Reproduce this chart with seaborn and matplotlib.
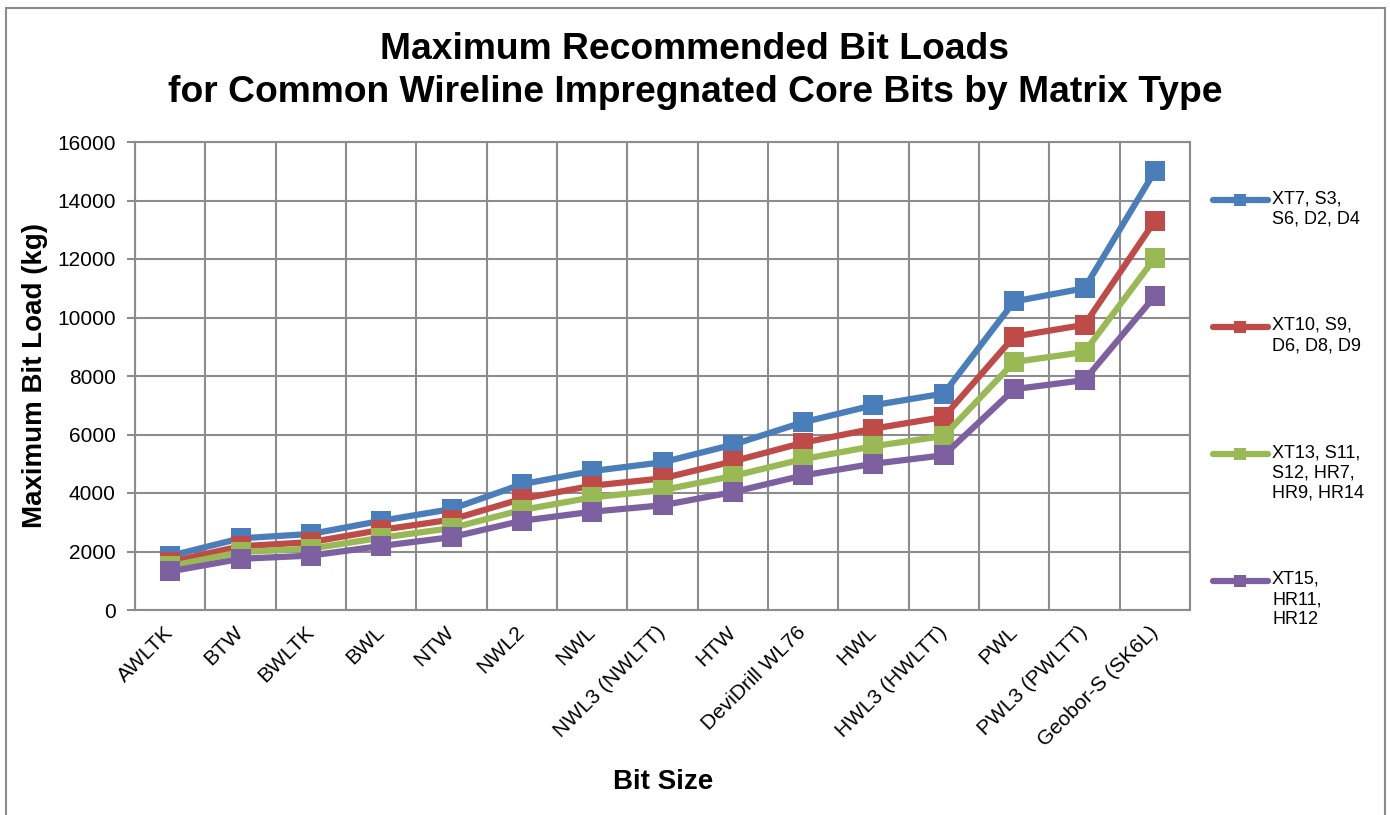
import numpy as np
import pandas as pd
import matplotlib.pyplot as plt
import seaborn as sns
from matplotlib.lines import Line2D
from matplotlib.patches import Rectangle

# ──────────────────────────────────────────────────────────────────────
# Data
# ──────────────────────────────────────────────────────────────────────
bit_sizes = ['AWLTK', 'BTW', 'BWLTK', 'BWL', 'NTW', 'NWL2', 'NWL',
             'NWL3 (NWLTT)', 'HTW', 'DeviDrill WL76', 'HWL', 'HWL3 (HWLTT)',
             'PWL', 'PWL3 (PWLTT)', 'Geobor-S (SK6L)']

series_names = ['XT7, S3,\nS6, D2, D4',
                'XT10, S9,\nD6, D8, D9',
                'XT13, S11,\nS12, HR7,\nHR9, HR14',
                'XT15,\nHR11,\nHR12']

load_xt7 = [1850, 2450, 2600, 3050, 3450, 4300, 4750, 5050, 5650, 6420,
            7000, 7400, 10550, 11000, 15000]
load_xt10 = [1650, 2180, 2320, 2740, 3090, 3800, 4250, 4500, 5080, 5720,
             6200, 6600, 9350, 9750, 13300]
load_xt13 = [1500, 1980, 2100, 2470, 2800, 3420, 3850, 4100, 4580, 5160,
             5600, 5950, 8480, 8820, 12030]
load_xt15 = [1320, 1750, 1860, 2190, 2490, 3050, 3360, 3580, 4030, 4600,
             5000, 5290, 7550, 7860, 10730]

colors = ['#4A7EBB', '#BE4B48', '#98B954', '#7D60A0']

# ──────────────────────────────────────────────────────────────────────
# Style
# ──────────────────────────────────────────────────────────────────────
sns.set_style('white')
plt.rcParams['font.family'] = ['Liberation Sans', 'DejaVu Sans']
plt.rcParams['text.color'] = 'black'

GRID = '#8C8C8C'

df = pd.concat([
    pd.DataFrame({'pos': np.arange(len(bit_sizes)), 'load': vals, 'series': name})
    for name, vals in zip(series_names, [load_xt7, load_xt10, load_xt13, load_xt15])
], ignore_index=True)

fig = plt.figure(figsize=(13.9, 8.15), dpi=100)
ax = fig.add_axes([135 / 1390, 1 - 610 / 815, 1055 / 1390, 468 / 815])

sns.lineplot(data=df, x='pos', y='load', hue='series', hue_order=series_names,
             palette=colors, marker='s', markersize=14, markeredgewidth=0,
             linewidth=4.5, sort=False, legend=False, ax=ax, zorder=3)

# axes / grid
ax.set_xlim(-0.5, len(bit_sizes) - 0.5)
ax.set_ylim(0, 16000)
ax.set_yticks(np.arange(0, 16001, 2000))
ax.set_xticks(np.arange(len(bit_sizes)))
ax.set_xticklabels(bit_sizes, rotation=45, ha='right', va='center',
                   rotation_mode='anchor')
ax.set_xticks(np.arange(-0.5, len(bit_sizes)), minor=True)
ax.tick_params(axis='x', which='major', length=0, pad=14, labelsize=15,
               labelcolor='black')
ax.tick_params(axis='x', which='minor', length=6, width=1.5, color=GRID,
               direction='out')
ax.tick_params(axis='y', length=6, width=1.5, color=GRID, pad=8,
               labelsize=15, labelcolor='black', direction='out', left=True)
ax.grid(axis='y', which='major', color=GRID, linewidth=1.5)
ax.grid(axis='x', which='minor', color=GRID, linewidth=1.5)
ax.grid(axis='x', which='major', visible=False)
for side in ax.spines.values():
    side.set_color(GRID)
    side.set_linewidth(1.5)
ax.set_xlabel('')
ax.set_ylabel('')

# titles / labels
fig.text(0.5, 1 - 71 / 815,
         'Maximum Recommended Bit Loads\nfor Common Wireline Impregnated Core Bits by Matrix Type',
         ha='center', va='center', fontsize=26.8, fontweight='bold',
         linespacing=1.3)
fig.text(35 / 1390, 1 - 376 / 815, 'Maximum Bit Load (kg)', rotation=90,
         ha='center', va='center', fontsize=20, fontweight='bold')
fig.text(663 / 1390, 1 - 782 / 815, 'Bit Size', ha='center', va='center',
         fontsize=20, fontweight='bold')

# legend (Excel-style: handle beside first line of each label)
legend_y = [200, 327, 454, 581]
for name, col, yy in zip(series_names, colors, legend_y):
    yf = 1 - yy / 815
    fig.add_artist(Line2D([1213 / 1390, 1240 / 1390, 1268 / 1390], [yf] * 3,
                          color=col, linewidth=4.5, marker='s', markersize=9,
                          markeredgewidth=0, markevery=[1],
                          solid_capstyle='round'))
    fig.text(1272 / 1390, yf + 10 / 815, name, ha='left', va='top',
             fontsize=13, linespacing=1.25)

# chart border
fig.add_artist(Rectangle((6 / 1390, -0.05), 1379 / 1390, 1.05 - 8 / 815,
                         transform=fig.transFigure, fill=False,
                         edgecolor='#8C8C8C', linewidth=1.5))

fig.savefig('out.png', dpi=100)
